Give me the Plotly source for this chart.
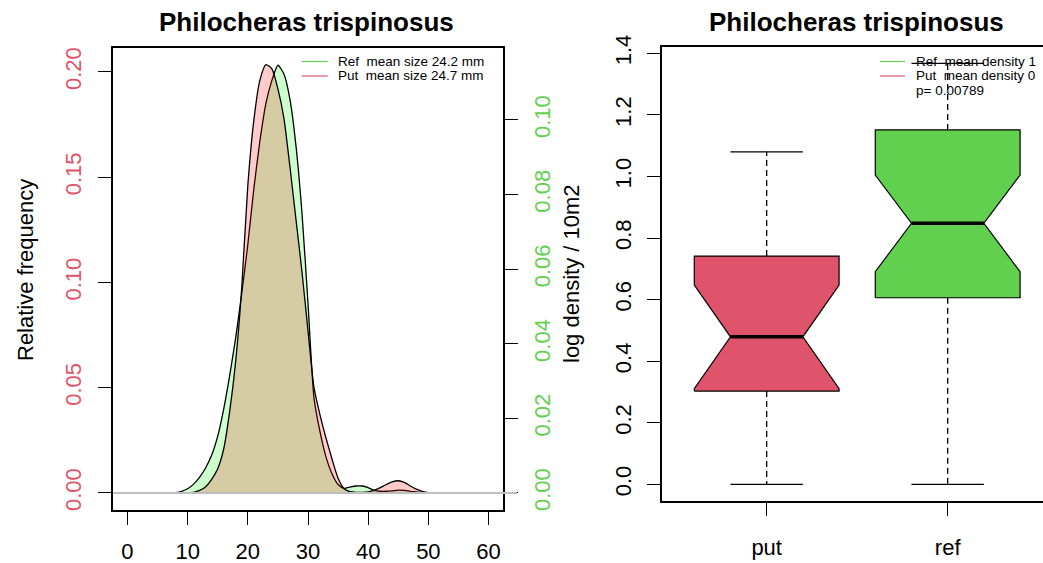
import plotly.graph_objects as go

W, H = 1043, 563
FONT = "Liberation Sans, Arial, sans-serif"
RED = "#DF536B"
GREEN = "#61D04F"


def fx(p):
    return p / W


def fy(p):
    return 1 - p / H


# ---- size-frequency curves (relative frequency by carapace size, mm) ----
ref_size = list(range(7, 52))
ref_freq = [0.0, 0.0002, 0.0008, 0.002, 0.0042, 0.0075, 0.012, 0.018, 0.027, 0.040,
            0.056, 0.074, 0.095, 0.118, 0.1445, 0.167, 0.185, 0.196, 0.2032, 0.199,
            0.187, 0.165, 0.133, 0.090, 0.045, 0.029, 0.017, 0.009, 0.004, 0.0022,
            0.0028, 0.0033, 0.0033, 0.0025, 0.0012, 0.0008, 0.0008, 0.0010, 0.0013, 0.0012,
            0.0008, 0.0005, 0.0002, 0.0001, 0.0]
put_size = list(range(10, 52))
put_freq = [0.0, 0.0003, 0.0012, 0.003, 0.0065, 0.0115, 0.021, 0.039, 0.063, 0.098,
            0.146, 0.177, 0.196, 0.2035, 0.2015, 0.192, 0.178, 0.155, 0.130, 0.105,
            0.077, 0.050, 0.037, 0.026, 0.016, 0.007, 0.002, 0.0006, 0.0003, 0.0003,
            0.0005, 0.0012, 0.0025, 0.004, 0.0053, 0.0058, 0.005, 0.0033, 0.0018, 0.0008,
            0.0002, 0.0]

size_ticks = [0, 10, 20, 30, 40, 50, 60]
freq_ticks = [0.00, 0.05, 0.10, 0.15, 0.20]
dens_ticks = [0.00, 0.02, 0.04, 0.06, 0.08, 0.10]

# ---- notched box statistics (log density / 10m2) ----
groups = ["put", "ref"]
whisker_lo = [0.0, 0.0]
q1 = [0.303, 0.606]
median = [0.479, 0.848]
q3 = [0.7415, 1.151]
whisker_hi = [1.080, 1.367]
notch_lo = [0.311, 0.6905]
notch_hi = [0.647, 1.0045]
box_fill = [RED, GREEN]
box_ticks = [0.0, 0.2, 0.4, 0.6, 0.8, 1.0, 1.2, 1.4]

size_legend = ["Ref  mean size 24.2 mm", "Put  mean size 24.7 mm"]
dens_legend = ["Ref  mean density 1", "Put  mean density 0"]
p_text = "p= 0.00789"
title = "Philocheras trispinosus"

fig = go.Figure()

# density polygons: reference first, harbour (put) on top
fig.add_trace(go.Scatter(x=ref_size, y=ref_freq, mode="lines", fill="tozeroy",
                         fillcolor="rgba(0,255,0,0.2)",
                         line=dict(color="black", width=1.3, shape="spline", smoothing=0.6),
                         xaxis="x", yaxis="y", showlegend=False, hoverinfo="skip"))
fig.add_trace(go.Scatter(x=put_size, y=put_freq, mode="lines", fill="tozeroy",
                         fillcolor="rgba(255,0,0,0.2)",
                         line=dict(color="black", width=1.3, shape="spline", smoothing=0.6),
                         xaxis="x", yaxis="y", showlegend=False, hoverinfo="skip"))
# invisible trace to activate the secondary density axis
fig.add_trace(go.Scatter(x=[None], y=[None], xaxis="x", yaxis="y2", showlegend=False))

# notched boxes
half = 0.4
for i, g in enumerate(groups):
    c = i + 1
    bx = [c - half, c - half, c - half / 2, c - half, c - half,
          c + half, c + half, c + half / 2, c + half, c + half, c - half]
    by = [q1[i], notch_lo[i], median[i], notch_hi[i], q3[i],
          q3[i], notch_hi[i], median[i], notch_lo[i], q1[i], q1[i]]
    fig.add_trace(go.Scatter(x=bx, y=by, mode="lines", fill="toself", fillcolor=box_fill[i],
                             line=dict(color="black", width=1.2),
                             xaxis="x3", yaxis="y3", showlegend=False, hoverinfo="skip"))
    # whiskers
    for a, b in ((q3[i], whisker_hi[i]), (q1[i], whisker_lo[i])):
        fig.add_trace(go.Scatter(x=[c, c], y=[a, b], mode="lines",
                                 line=dict(color="black", width=1.3, dash="6px,4px"),
                                 xaxis="x3", yaxis="y3", showlegend=False, hoverinfo="skip"))
    # staples
    for v in (whisker_hi[i], whisker_lo[i]):
        fig.add_trace(go.Scatter(x=[c - half / 2, c + half / 2], y=[v, v], mode="lines",
                                 line=dict(color="black", width=1.3),
                                 xaxis="x3", yaxis="y3", showlegend=False, hoverinfo="skip"))
    # median bar
    fig.add_trace(go.Scatter(x=[c - half / 2, c + half / 2], y=[median[i], median[i]], mode="lines",
                             line=dict(color="black", width=3.5),
                             xaxis="x3", yaxis="y3", showlegend=False, hoverinfo="skip"))

tickfont = dict(family=FONT, size=22, color="black")
common = dict(showgrid=False, zeroline=False, showline=True, linecolor="black", linewidth=1.5,
              ticks="outside", ticklen=13, tickwidth=1.3, tickcolor="black", automargin=False)

fig.update_layout(
    width=W, height=H, margin=dict(l=0, r=0, t=0, b=0, pad=0, autoexpand=False), autosize=False,
    paper_bgcolor="white", plot_bgcolor="white", showlegend=False,
    xaxis=dict(domain=[fx(113), fx(503)], range=[-2.4, 62.4], tickvals=size_ticks,
               mirror=True, tickfont=tickfont, anchor="y", ticklabelstandoff=8, **common),
    yaxis=dict(domain=[fy(510), fy(48)], range=[-0.0081, 0.2114], tickvals=freq_ticks,
               tickformat=".2f", tickangle=-90, anchor="x",
               tickfont=dict(family=FONT, size=22, color=RED), ticklabelstandoff=8, **common),
    yaxis2=dict(domain=[fy(510), fy(48)], range=[-0.00456, 0.1193], tickvals=dens_ticks,
                tickformat=".2f", tickangle=-90, overlaying="y", side="right", anchor="x",
                tickfont=dict(family=FONT, size=22, color=GREEN), ticklabelstandoff=6, **common),
    xaxis3=dict(domain=[fx(661.7), 1.0], range=[0.42, 2.5266], tickvals=[1, 2], ticktext=groups,
                mirror=True, tickfont=tickfont, anchor="y3", ticklabelstandoff=13, **common),
    yaxis3=dict(domain=[fy(501), fy(47.3)], range=[-0.0542, 1.4195], tickvals=box_ticks,
                tickformat=".1f", tickangle=-90, anchor="x3", tickfont=tickfont,
                ticklabelstandoff=7, **common),
)

shapes = [
    # zero reference line across the size panel
    dict(type="line", xref="paper", yref="y", x0=fx(113), x1=fx(517), y0=0, y1=0,
         line=dict(color="#BEBEBE", width=2)),
]
ann = []
# titles
for cx in (306, 856):
    ann.append(dict(text=f"<b>{title}</b>", x=fx(cx), y=fy(22), xref="paper", yref="paper",
                    showarrow=False, xanchor="center", yanchor="middle",
                    font=dict(family=FONT, size=26, color="black")))
# axis labels
ann.append(dict(text="Relative frequency", x=fx(25), y=fy(270), xref="paper", yref="paper",
                showarrow=False, textangle=-90, xanchor="center", yanchor="middle",
                font=dict(family=FONT, size=22, color="black")))
ann.append(dict(text="log density / 10m2", x=fx(571), y=fy(274), xref="paper", yref="paper",
                showarrow=False, textangle=-90, xanchor="center", yanchor="middle",
                font=dict(family=FONT, size=22, color="black")))

# legends
leg_font = dict(family=FONT, size=13.5, color="black")
for (lx0, lx1, tx), texts in (((301.7, 327.7, 336), size_legend), ((880, 905, 914), dens_legend)):
    for row, (txt, col) in enumerate(zip(texts, [GREEN, RED])):
        ly = 61.5 + 14.5 * row
        shapes.append(dict(type="line", xref="paper", yref="paper", x0=fx(lx0), x1=fx(lx1),
                           y0=fy(ly), y1=fy(ly), line=dict(color=col, width=1.2)))
        ann.append(dict(text=txt, x=fx(tx), y=fy(ly), xref="paper", yref="paper", showarrow=False,
                        xanchor="left", yanchor="middle", font=leg_font))
ann.append(dict(text=p_text, x=fx(914), y=fy(90.5), xref="paper", yref="paper", showarrow=False,
                xanchor="left", yanchor="middle", font=leg_font))

fig.update_layout(shapes=shapes, annotations=ann)
fig.write_html("out.html")
